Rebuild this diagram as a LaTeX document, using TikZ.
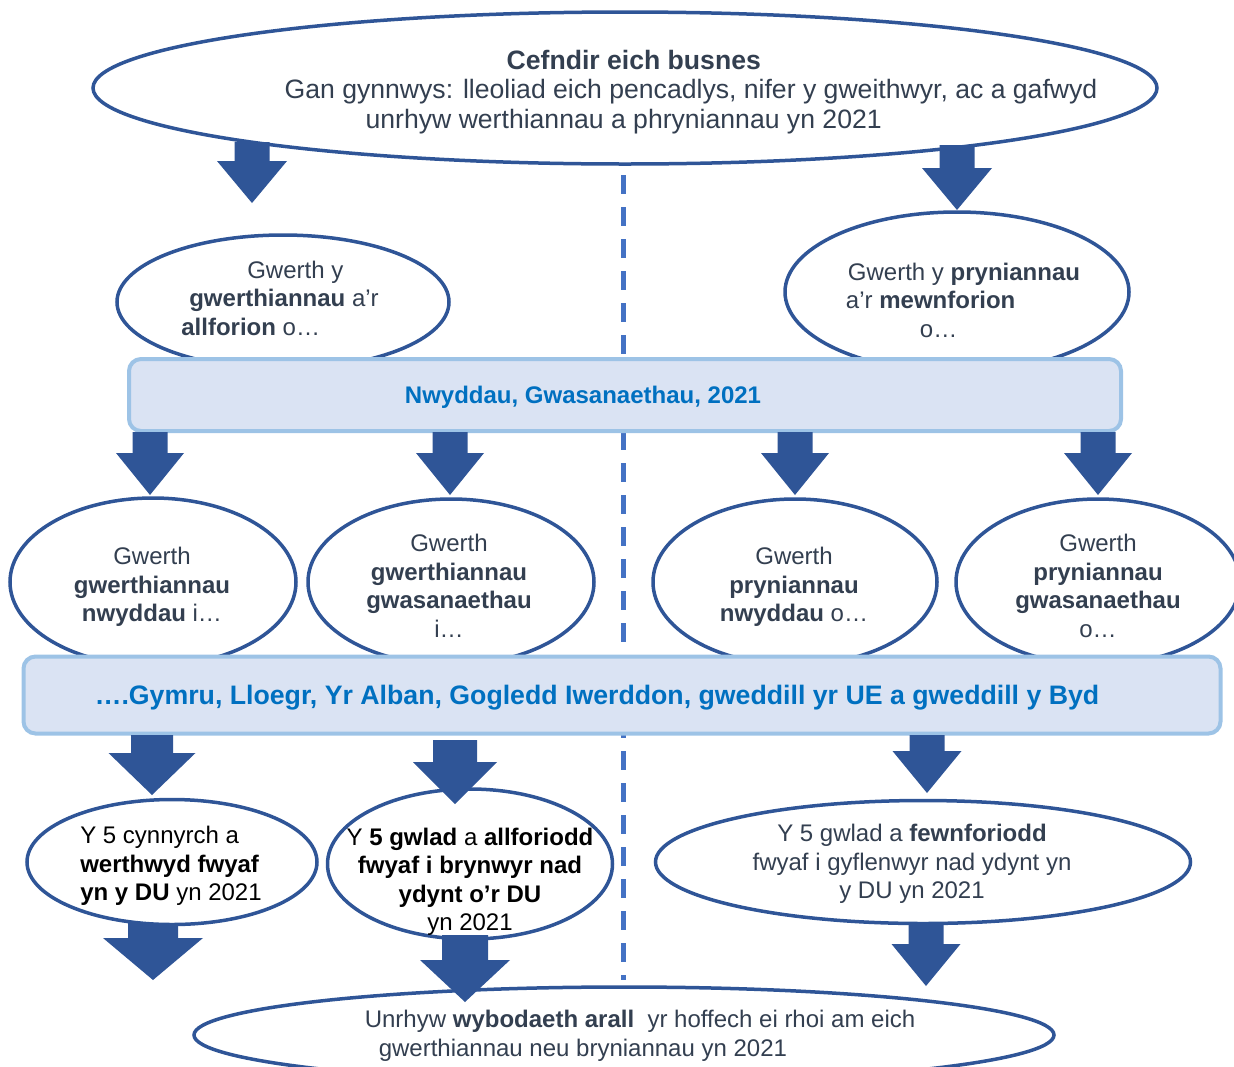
\documentclass[tikz,border=0pt]{standalone}
\usepackage{fontspec}
\setmainfont{Liberation Sans}
\usetikzlibrary{shapes.geometric}

\definecolor{navy}{HTML}{2F5597}
\definecolor{slate}{HTML}{333F50}
\definecolor{boxfill}{HTML}{DAE3F3}
\definecolor{boxline}{HTML}{9DC3E6}
\definecolor{boxtext}{HTML}{0070C0}
\definecolor{dashblue}{HTML}{4472C4}

\begin{document}
\begin{tikzpicture}[x=1pt,y=-1pt,
  oval/.style={ellipse,draw=navy,line width=3.5pt,fill=white,inner sep=0pt},
  band/.style={rounded corners=12pt,draw=boxline,line width=4pt,fill=boxfill,inner sep=0pt},
  txt/.style={text=slate,font=\fontsize{24}{28.5}\selectfont,inner sep=0pt},
  bandtxt/.style={text=boxtext,font=\fontsize{24}{28.5}\selectfont\bfseries,inner sep=0pt}]

  \useasboundingbox (0,0) rectangle (1234,1066);

  % dashed divider between sales and purchases
  \draw[dashblue,line width=5pt,dash pattern=on 19pt off 13pt] (623,175) -- (623,980);

  % ovals
  \node[oval,minimum width=1064pt,minimum height=152pt] (top) at (625,88) {};
  \node[oval,minimum width=332pt,minimum height=134pt] (sales) at (283,302) {};
  \node[oval,minimum width=344pt,minimum height=160pt] (buys) at (957,292) {};
  \node[oval,minimum width=286pt,minimum height=168pt] (sg) at (153,582) {};
  \node[oval,minimum width=286pt,minimum height=166pt] (ss) at (451,582) {};
  \node[oval,minimum width=284pt,minimum height=166pt] (bg) at (795,582) {};
  \node[oval,minimum width=284pt,minimum height=166pt] (bs) at (1098,582) {};
  \node[oval,minimum width=290pt,minimum height=125pt] (prod) at (172,862) {};
  \node[oval,minimum width=285pt,minimum height=150pt] (exp) at (470,864) {};
  \node[oval,minimum width=535pt,minimum height=123pt] (imp) at (923,862) {};
  \node[oval,minimum width=860pt,minimum height=96pt] (other) at (624,1035) {};

  % bands
  \node[band,minimum width=992pt,minimum height=72pt] (goods) at (625,395) {};
  \node[band,minimum width=1197pt,minimum height=77pt] (places) at (622,695) {};

  % texts
  \node[txt,align=left,font=\fontsize{26.6}{29.5}\selectfont] at (691,92)
    {\hspace*{222pt}\textbf{Cefndir eich busnes}\\
     Gan gynnwys: lleoliad eich pencadlys, nifer y gweithwyr, ac a gafwyd\\
     \hspace*{81pt}unrhyw werthiannau a phryniannau yn 2021};
  \node[txt,align=left] at (280,298)
    {\hspace*{66pt}Gwerth y\\ \hspace*{8pt}\textbf{gwerthiannau} a’r\\ \textbf{allforion} o…};
  \node[txt,align=left] at (963,300)
    {\hspace*{2pt}Gwerth y \textbf{pryniannau}\\ a’r \textbf{mewnforion}\\ \hspace*{74pt}o…};
  \node[bandtxt] at (583,397) {Nwyddau, Gwasanaethau, 2021};
  \node[txt,align=center] at (152,587) {Gwerth\\ \textbf{gwerthiannau}\\ \textbf{nwyddau} i…};
  \node[txt,align=center] at (449,586) {Gwerth\\ \textbf{gwerthiannau}\\ \textbf{gwasanaethau}\\ i…};
  \node[txt,align=center] at (794,587) {Gwerth\\ \textbf{pryniannau}\\ \textbf{nwyddau} o…};
  \node[txt,align=center] at (1098,586) {Gwerth\\ \textbf{pryniannau}\\ \textbf{gwasanaethau}\\ o…};
  \node[bandtxt,font=\fontsize{26.7}{29}\selectfont\bfseries] at (597,698)
    {….Gymru, Lloegr, Yr Alban, Gogledd Iwerddon, gweddill yr UE a gweddill y Byd};
  \node[txt,text=black,align=left] at (171,866)
    {Y 5 cynnyrch a\\ \textbf{werthwyd fwyaf}\\ \textbf{yn y DU} yn 2021};
  \node[txt,text=black,align=center] at (470,882)
    {Y \textbf{5 gwlad} a \textbf{allforiodd}\\ \textbf{fwyaf i brynwyr nad}\\ \textbf{ydynt o’r DU}\\ yn 2021};
  \node[txt,align=center] at (912,864)
    {Y 5 gwlad a \textbf{fewnforiodd}\\ fwyaf i gyflenwyr nad ydynt yn\\ y DU yn 2021};
  \node[txt,align=left] at (640,1036)
    {Unrhyw \textbf{wybodaeth arall}~ yr hoffech ei rhoi am eich\\
     \hspace*{14pt}gwerthiannau neu bryniannau yn 2021};

  % block arrows: x / top / tip / shaft width / head width
  \foreach \x/\ya/\yb/\s/\h in {252/142/203/35/70, 957/145/210/35/70,
      150/432/495/35/68, 450/432/495/35/68, 795/432/495/35/68, 1098/432/495/35/68,
      152/735/795/42/87, 455/740/804/44/84, 927/735/793/35/69,
      153/923/980/50/100, 465/935/1002/46/90, 926/923/986/35/69}
    \fill[navy] (\x-\s/2,\ya) -- (\x+\s/2,\ya) -- (\x+\s/2,\yb-42) -- (\x+\h/2,\yb-42)
      -- (\x,\yb) -- (\x-\h/2,\yb-42) -- (\x-\s/2,\yb-42) -- cycle;
\end{tikzpicture}
\end{document}
